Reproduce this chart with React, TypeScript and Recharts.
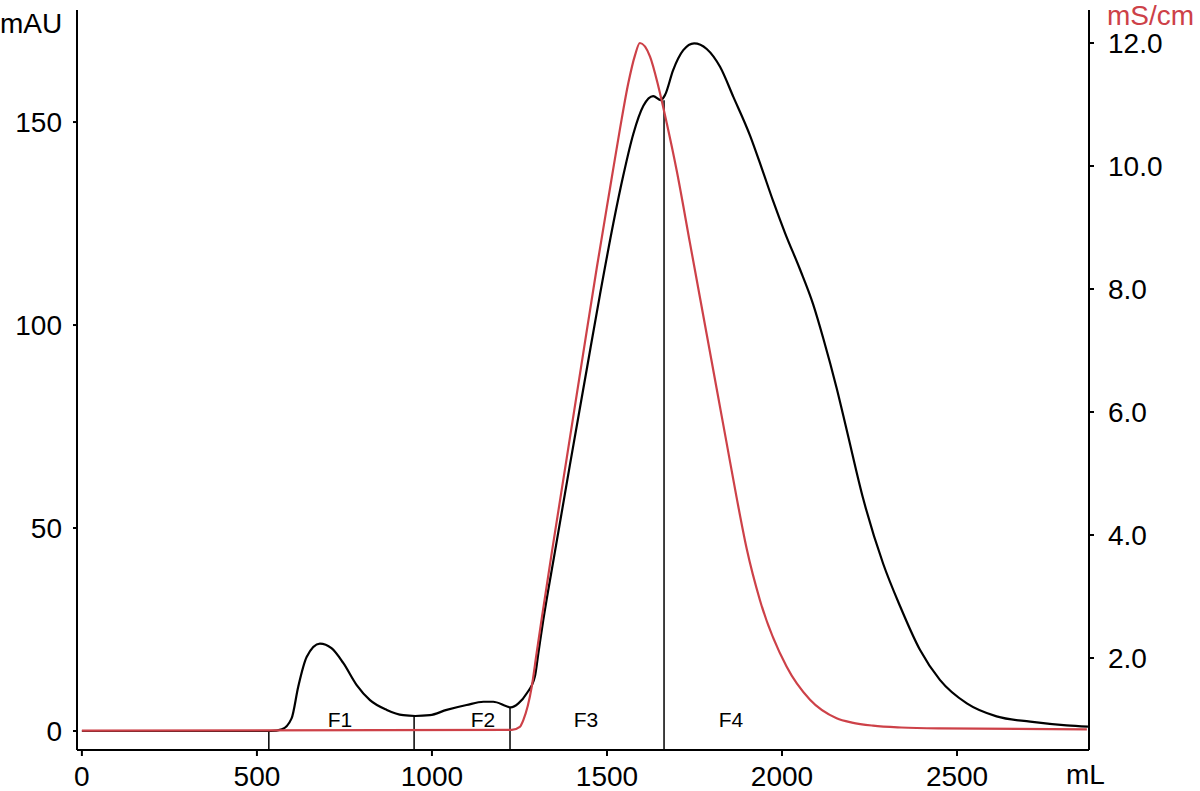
import { LineChart, Line, XAxis, YAxis, ReferenceLine, ReferenceDot } from 'recharts';

// UV absorbance trace (mAU) against elution volume (mL)
const uvVolume = [
  0, 540, 571, 599, 618, 642, 680, 713, 747, 785, 823, 871, 918, 952, 994, 1042, 1099, 1147, 1175, 1213,
  1225, 1247, 1271, 1294, 1304, 1318, 1351, 1394, 1442, 1480, 1518, 1547, 1575, 1604, 1632, 1654, 1666,
  1689, 1718, 1749, 1785, 1823, 1861, 1909, 1943, 1974, 2009, 2051, 2089, 2118, 2156, 2185, 2232, 2289,
  2337, 2394, 2451, 2528, 2613, 2709, 2813, 2874,
];
const uvAbs = [
  0, 0, 0.4, 3.1, 10.9, 18.2, 21.5, 20.4, 16.7, 11.3, 7.6, 5.2, 3.9, 3.7, 3.9, 5.2, 6.4, 7.2, 7.2, 6.1,
  5.8, 6.8, 9.3, 13.4, 19.2, 27.3, 44.0, 65.5, 89.0, 107.5, 125.0, 137.0, 147.0, 154.0, 156.4, 155.4, 156.7,
  162.8, 167.7, 169.4, 168.0, 163.6, 156.2, 146.6, 138.4, 130.7, 122.6, 113.8, 105.1, 96.7, 84.5, 74.1, 57.2, 41.2,
  30.8, 20.0, 12.6, 6.8, 3.6, 2.3, 1.4, 1.1,
];

// conductivity trace (mS/cm)
const condVolume = [
  0, 1228, 1251, 1261, 1285, 1299, 1313, 1342, 1385, 1432, 1471, 1509, 1537, 1561, 1580, 1594, 1623, 1647, 1671,
  1699, 1737, 1766, 1785, 1813, 1842, 1870, 1899, 1937, 2013, 2080, 2156, 2200, 2260, 2340, 2450, 2871,
];
const condValue = [
  0.82, 0.83, 0.88, 0.99, 1.53, 2.08, 2.62, 3.70, 5.25, 6.95, 8.35, 9.65, 10.6, 11.35, 11.8, 12.0, 11.78, 11.29, 10.69,
  9.93, 8.75, 7.85, 7.26, 6.39, 5.49, 4.62, 3.78, 2.94, 1.86, 1.32, 1.02, 0.95, 0.9, 0.87, 0.855, 0.84,
];

// fraction cuts and labels
const fractionCuts = [534, 949, 1223, 1663];
const fractionTops = [0, 3.9, 5.9, 155.4];
const fractionNames = ['F1', 'F2', 'F3', 'F4'];
const fractionLabelX = [737, 1146, 1440, 1854];

const volumeTicks = [0, 500, 1000, 1500, 2000, 2500];
const absTicks = [0, 50, 100, 150];
const condTicks = [2, 4, 6, 8, 10, 12];

const FONT = '"Liberation Sans", Arial, sans-serif';
const RED = '#cd4148';
const ABS_MIN = -4.68;

const uvData = uvVolume.map((ml, i) => ({ ml, abs: uvAbs[i] }));
const condData = condVolume.map((ml, i) => ({ ml, cond: condValue[i] }));

const tickStyle = { fontSize: 28, fill: '#000', fontFamily: FONT };
const axisStroke = { stroke: '#000', strokeWidth: 2 };

export default function App() {
  return (
    <div style={{ position: 'absolute', left: 0, top: 0, width: 1200, height: 791, background: '#fff', fontFamily: FONT }}>
      <LineChart width={1200} height={791} margin={{ top: 10, right: 0, bottom: 0, left: 0 }}>
        <XAxis
          dataKey="ml"
          type="number"
          domain={[-14, 2877]}
          ticks={volumeTicks}
          allowDataOverflow
          height={41}
          tick={tickStyle}
          tickSize={6}
          tickMargin={10}
          axisLine={axisStroke}
          tickLine={axisStroke}
          label={{
            content: () => (
              <text x={1066} y={784} fontSize={28} fontFamily={FONT} fill="#000">mL</text>
            ),
          }}
        />
        <YAxis
          yAxisId="left"
          orientation="left"
          width={77}
          domain={[ABS_MIN, 177.6]}
          ticks={absTicks}
          allowDataOverflow
          tick={tickStyle}
          tickSize={4}
          tickMargin={11}
          axisLine={axisStroke}
          tickLine={axisStroke}
          label={{
            content: () => (
              <text x={0} y={33} fontSize={28} fontFamily={FONT} fill="#000">mAU</text>
            ),
          }}
        />
        <YAxis
          yAxisId="right"
          orientation="right"
          width={111}
          domain={[0.504, 12.537]}
          ticks={condTicks}
          allowDataOverflow
          tickFormatter={(v: number) => v.toFixed(1)}
          tick={tickStyle}
          tickSize={5}
          tickMargin={14}
          axisLine={axisStroke}
          tickLine={axisStroke}
          label={{
            content: () => (
              <text x={1107} y={25} fontSize={28} fontFamily={FONT} fill={RED}>mS/cm</text>
            ),
          }}
        />
        {fractionCuts.map((cut, i) => (
          <ReferenceLine
            key={'cut' + i}
            yAxisId="left"
            segment={[{ x: cut, y: ABS_MIN }, { x: cut, y: fractionTops[i] }]}
            stroke="#000"
            strokeWidth={1.5}
            ifOverflow="visible"
          />
        ))}
        <Line
          yAxisId="left"
          data={uvData}
          dataKey="abs"
          type="monotone"
          stroke="#000"
          strokeWidth={2.2}
          dot={false}
          activeDot={false}
          isAnimationActive={false}
        />
        <Line
          yAxisId="right"
          data={condData}
          dataKey="cond"
          type="monotone"
          stroke={RED}
          strokeWidth={2.2}
          dot={false}
          activeDot={false}
          isAnimationActive={false}
        />
        {fractionNames.map((name, i) => (
          <ReferenceDot
            key={name}
            yAxisId="left"
            x={fractionLabelX[i]}
            y={1}
            r={0}
            ifOverflow="visible"
            shape={(p: any) => (
              <text x={p.cx} y={p.cy} textAnchor="middle" fontSize={21} fontFamily={FONT} fill="#000">
                {name}
              </text>
            )}
          />
        ))}
      </LineChart>
    </div>
  );
}
